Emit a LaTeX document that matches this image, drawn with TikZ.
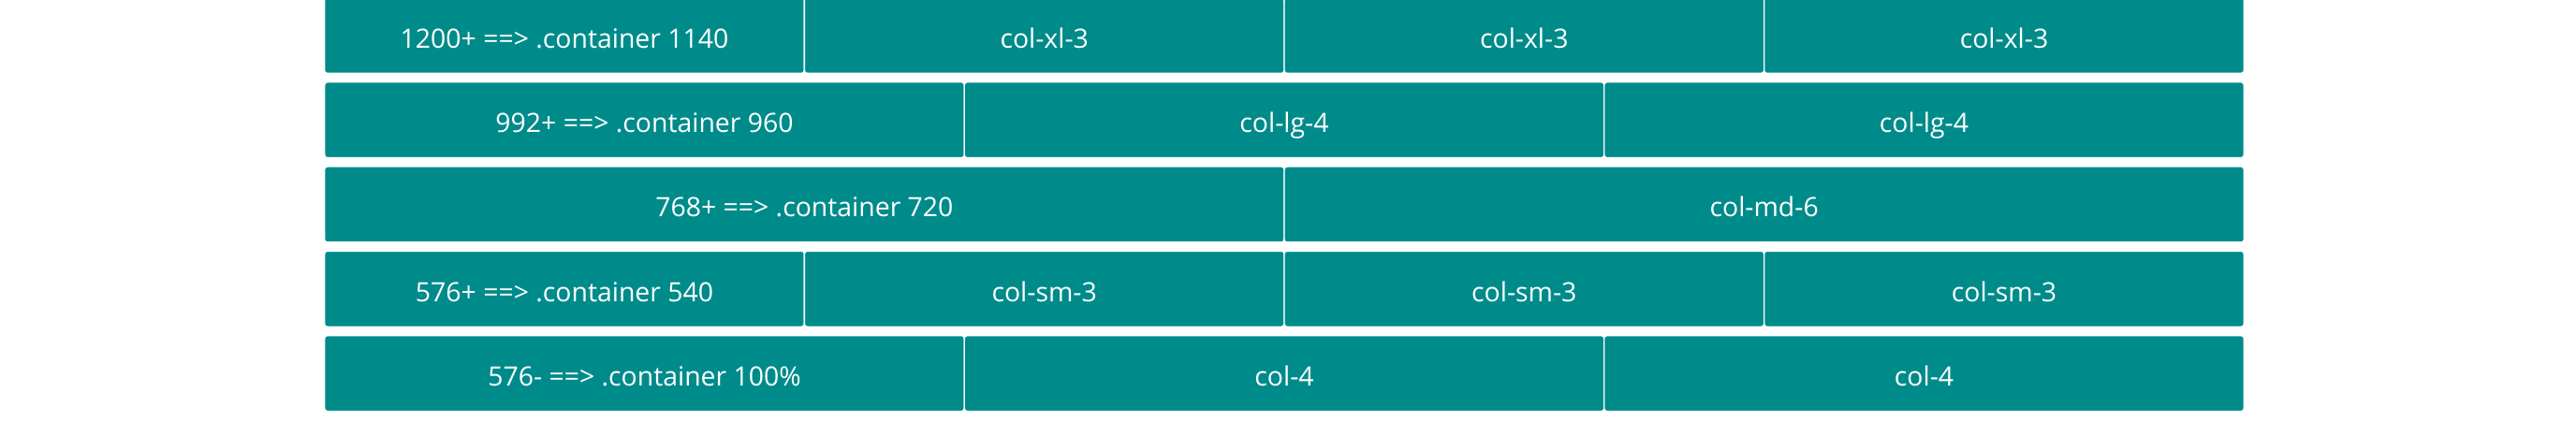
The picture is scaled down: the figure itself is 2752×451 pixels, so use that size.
\documentclass[tikz,border=0pt]{standalone}
\usepackage{fontspec}
\setmainfont{Open Sans}
\definecolor{cellteal}{RGB}{0,139,139}
\tikzset{
  cell/.style={shape=rectangle, fill=cellteal, draw=white, line width=1.3bp,
    rounded corners=3bp, text=white, inner sep=0pt, outer sep=0pt,
    font=\fontsize{28.5}{32}\selectfont, text height=27bp, text depth=0pt,
    minimum height=80.8bp},
  q/.style={cell, minimum width=512.65bp},
  t/.style={cell, minimum width=683.53bp},
  h/.style={cell, minimum width=1025.3bp}
}
\begin{document}
\begin{tikzpicture}[x=1bp,y=-1bp]
\useasboundingbox (0,0) rectangle (2752,451);
\clip (0,0) rectangle (2752,451);
\fill[white] (0,0) rectangle (2752,451);
% row 1
\node[q] (a1) at (603.0,37.9) {1200+ ==> .container 1140};
\node[q] (a2) at (1115.7,37.9) {col-xl-3};
\node[q] (a3) at (1628.3,37.9) {col-xl-3};
\node[q] (a4) at (2141.0,37.9) {col-xl-3};
% row 2
\node[t] (b1) at (688.5,128.2) {992+ ==> .container 960};
\node[t] (b2) at (1372.0,128.2) {col-lg-4};
\node[t] (b3) at (2055.5,128.2) {col-lg-4};
% row 3
\node[h] (c1) at (859.35,218.5) {768+ ==> .container 720};
\node[h] (c2) at (1884.65,218.5) {col-md-6};
% row 4
\node[q] (d1) at (603.0,308.8) {576+ ==> .container 540};
\node[q] (d2) at (1115.7,308.8) {col-sm-3};
\node[q] (d3) at (1628.3,308.8) {col-sm-3};
\node[q] (d4) at (2141.0,308.8) {col-sm-3};
% row 5
\node[t] (e1) at (688.5,399.1) {576- ==> .container 100\%};
\node[t] (e2) at (1372.0,399.1) {col-4};
\node[t] (e3) at (2055.5,399.1) {col-4};
\end{tikzpicture}
\end{document}
